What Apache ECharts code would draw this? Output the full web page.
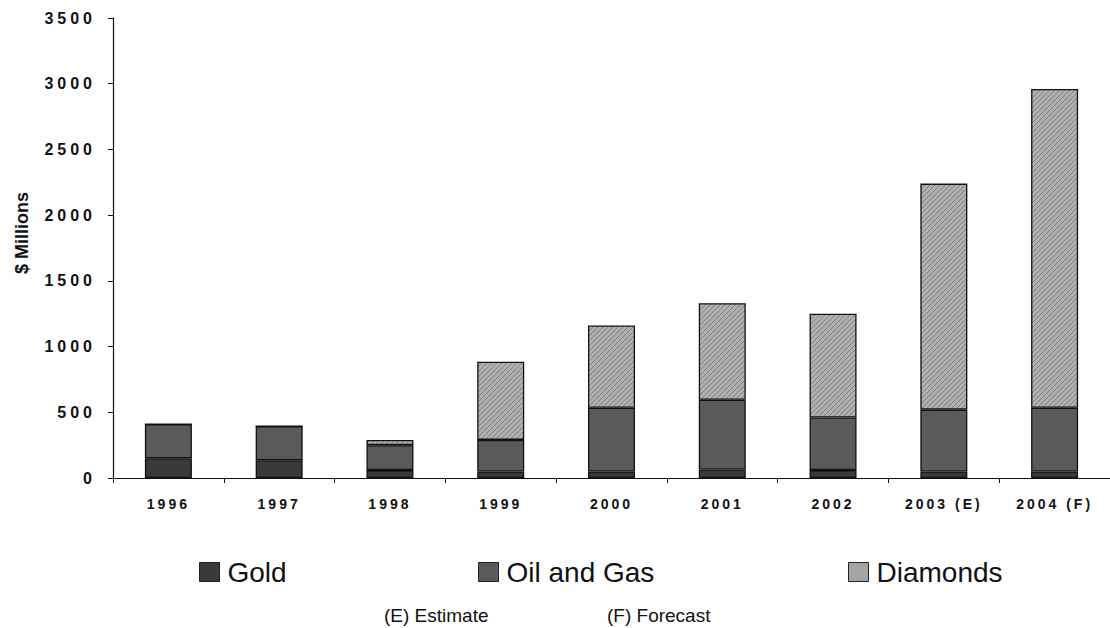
<!DOCTYPE html>
<html>
<head>
<meta charset="utf-8">
<script src="https://cdn.jsdelivr.net/npm/echarts@6/dist/echarts.min.js"></script>
<style>
html,body{margin:0;padding:0;background:#fff;}
#chart{width:1110px;height:628px;}
</style>
</head>
<body>
<div id="chart"></div>
<script>
// ---- data ----
const categories = ['1996', '1997', '1998', '1999', '2000', '2001', '2002', '2003 (E)', '2004 (F)'];
const gold      = [150, 135, 60, 50, 50, 65, 60, 50, 50];
const oilAndGas = [260, 260, 190, 240, 485, 530, 400, 470, 485];
const diamonds  = [0, 0, 40, 595, 625, 735, 790, 1720, 2425];
const seriesNames = ['Gold', 'Oil and Gas', 'Diamonds'];
const yMin = 0, yMax = 3500, yStep = 500;
const axisTitle = '$ Millions';
const footnotes = ['(E) Estimate', '(F) Forecast'];

const FONT = 'Liberation Sans, Arial, sans-serif';
const chart = echarts.init(document.getElementById('chart'), null, {renderer: 'svg'});

// diagonal hatch tile for the light series
function hatchTile() {
  const c = document.createElement('canvas');
  c.width = 5; c.height = 5;
  const g = c.getContext('2d');
  g.fillStyle = '#b0b0b0';
  g.fillRect(0, 0, 5, 5);
  g.strokeStyle = '#808080';
  g.lineWidth = 1;
  for (let k = -5; k <= 10; k += 5) {
    g.beginPath(); g.moveTo(k, 5); g.lineTo(k + 5, 0); g.stroke();
  }
  return c;
}

const border = {borderColor: '#111', borderWidth: 1.3};
const styles = [
  Object.assign({color: '#3a3a3a'}, border),
  Object.assign({color: '#5a5a5a'}, border),
  Object.assign({color: {image: hatchTile(), repeat: 'repeat'}}, border)
];
const legendColors = ['#3a3a3a', '#5a5a5a', '#a5a5a5'];
const dataSets = [gold, oilAndGas, diamonds];

function legendAt(i, left) {
  return {
    data: [seriesNames[i]], left: left, top: 553, orient: 'horizontal',
    icon: 'rect', itemWidth: 20, itemHeight: 19,
    textStyle: {fontFamily: FONT, fontSize: 28, color: '#111', padding: [0, 0, 0, 3]},
    itemStyle: {color: legendColors[i], borderColor: '#222', borderWidth: 1}
  };
}

chart.setOption({
  animation: false,
  backgroundColor: '#fff',
  grid: {left: 113, right: -9, top: 18, bottom: 150, containLabel: false},
  xAxis: {
    type: 'category', data: categories,
    axisLine: {lineStyle: {color: '#111', width: 1.2}},
    axisTick: {show: true, length: 5, lineStyle: {color: '#111'}},
    axisLabel: {fontFamily: FONT, fontWeight: 'bold', fontSize: 14, color: '#111', margin: 19, interval: 0}
  },
  yAxis: {
    type: 'value', min: yMin, max: yMax, interval: yStep,
    axisLine: {show: true, lineStyle: {color: '#111', width: 1.2}},
    axisTick: {show: true, length: 5, lineStyle: {color: '#111'}},
    splitLine: {show: false},
    axisLabel: {fontFamily: FONT, fontWeight: 'bold', fontSize: 16, color: '#111', margin: 17,
      formatter: v => String(v)}
  },
  legend: [legendAt(0, 194), legendAt(1, 473), legendAt(2, 843)],
  graphic: [
    {type: 'text', left: 13, top: 192, rotation: Math.PI / 2,
      style: {text: axisTitle, fontFamily: FONT, fontWeight: 'bold', fontSize: 18, fill: '#111'}},
    {type: 'text', left: 384, top: 606,
      style: {text: footnotes[0], fontFamily: FONT, fontSize: 19, fill: '#111'}},
    {type: 'text', left: 607, top: 606,
      style: {text: footnotes[1], fontFamily: FONT, fontSize: 19, fill: '#111'}}
  ],
  series: seriesNames.map((n, i) => ({
    name: n, type: 'bar', stack: 'total', barWidth: 47,
    data: dataSets[i], itemStyle: styles[i], emphasis: {disabled: true}
  }))
});

function applySpacing() {
  document.querySelectorAll('#chart svg text').forEach(t => {
    const s = t.textContent.trim();
    const anchor = t.getAttribute('text-anchor');
    if (categories.indexOf(s) >= 0 && anchor === 'middle') t.style.letterSpacing = '3px';
    else if (/^\d+$/.test(s) && anchor === 'end') t.style.letterSpacing = '4px';
  });
}
chart.on('finished', applySpacing);
setTimeout(applySpacing, 50);
</script>
</body>
</html>
